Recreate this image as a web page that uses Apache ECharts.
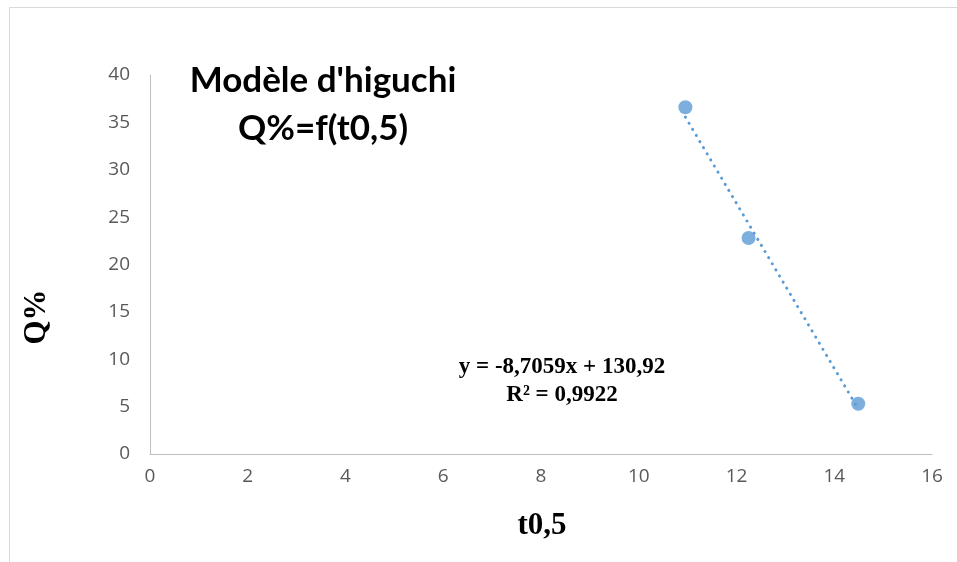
<!DOCTYPE html>
<html>
<head>
<meta charset="utf-8">
<script src="https://cdn.jsdelivr.net/npm/echarts@6/dist/echarts.min.js"></script>
<style>
  html, body { margin: 0; padding: 0; background: #fff; }
  #chart { width: 957px; height: 562px; }
</style>
</head>
<body>
<div id="chart"></div>
<script>
// Higuchi model: released fraction Q% against square root of time
const tSqrt = [10.954, 12.247, 14.491];
const qPercent = [36.6, 22.8, 5.3];
const xTicks = [0, 2, 4, 6, 8, 10, 12, 14, 16];
const yTicks = [0, 5, 10, 15, 20, 25, 30, 35, 40];
// Linear trendline coefficients
const slope = -8.7059;
const intercept = 130.92;
const rSquared = 0.9922;

const points = tSqrt.map((x, i) => [x, qPercent[i]]);
const xMin = Math.min(...tSqrt), xMax = Math.max(...tSqrt);
const trend = [[xMin, slope * xMin + intercept], [xMax, slope * xMax + intercept]];
const fmt = (v) => String(v).replace('.', ',');

const chart = echarts.init(document.getElementById('chart'));
const blue = '#5b9bd5';
const tickFont = { color: '#595959', fontSize: 19, fontFamily: '"Liberation Sans Narrow", "Open Sans", sans-serif' };
const serifBold = 'bold 31px "Liberation Serif", "DejaVu Serif", serif';

chart.setOption({
  animation: false,
  backgroundColor: '#fff',
  grid: { left: 150, right: 25, top: 75, bottom: 108 },
  graphic: [
    { type: 'rect', shape: { x: 9.5, y: 7.5, width: 960, height: 570 }, style: { fill: 'none', stroke: '#d9d9d9', lineWidth: 1 }, silent: true },
    { type: 'text', x: 323, y: 105, style: {
        text: "Modèle d'higuchi\nQ%=f(t0,5)", align: 'center', verticalAlign: 'middle',
        font: 'bold 35px Lato, "Open Sans", sans-serif', lineHeight: 48, fill: '#000' } },
    { type: 'text', x: 562, y: 381, style: {
        text: 'y = ' + fmt(slope) + 'x + ' + fmt(intercept) + '\nR² = ' + fmt(rSquared),
        align: 'center', verticalAlign: 'middle', font: 'bold 23px "Liberation Serif", serif', fill: '#000', lineHeight: 28 } },
    { type: 'text', x: 37, y: 317, rotation: Math.PI / 2, style: {
        text: 'Q%', align: 'center', verticalAlign: 'middle', font: serifBold, fill: '#000' } },
    { type: 'text', x: 542, y: 526, style: {
        text: 't0,5', align: 'center', verticalAlign: 'middle', font: serifBold, fill: '#000' } }
  ],
  xAxis: {
    type: 'value', min: 0, max: 16, interval: 2,
    axisLine: { show: true, lineStyle: { color: '#bfbfbf', width: 1 } },
    axisTick: { show: false },
    splitLine: { show: false },
    axisLabel: Object.assign({ margin: 13, formatter: (v) => xTicks.includes(v) ? String(v) : '' }, tickFont)
  },
  yAxis: {
    type: 'value', min: 0, max: 40, interval: 5,
    axisLine: { show: true, lineStyle: { color: '#bfbfbf', width: 1 } },
    axisTick: { show: false },
    splitLine: { show: false },
    axisLabel: Object.assign({ margin: 20, formatter: (v) => yTicks.includes(v) ? String(v) : '' }, tickFont)
  },
  series: [
    {
      type: 'line', data: trend, showSymbol: false, symbol: 'none',
      lineStyle: { color: blue, width: 3, type: [0.1, 7], cap: 'round' }, z: 2
    },
    {
      type: 'scatter', data: points, symbol: 'circle', symbolSize: 14,
      itemStyle: { color: blue }, z: 3
    }
  ]
});
</script>
</body>
</html>
